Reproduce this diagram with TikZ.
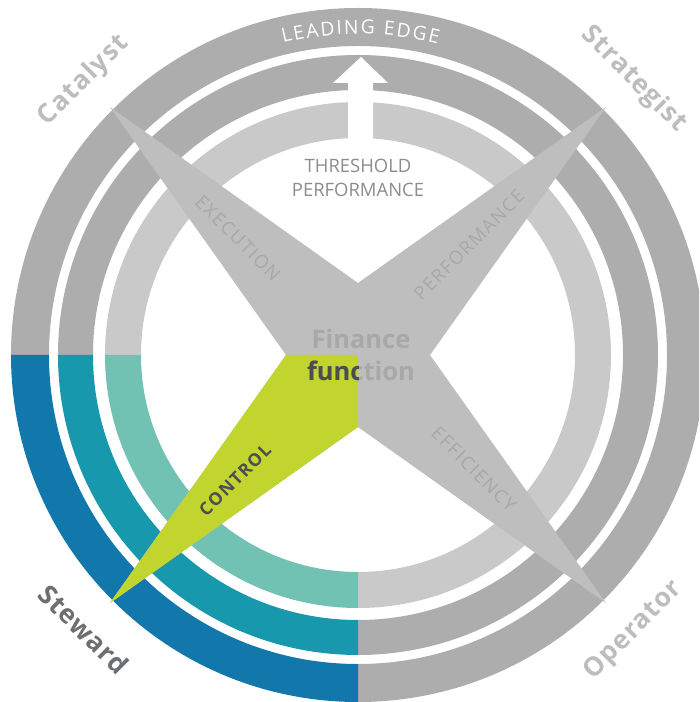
\documentclass[tikz,border=0pt]{standalone}
\usepackage{fontspec}
\usepackage{xcolor}
\usepackage{tikz}
\usetikzlibrary{positioning, decorations.text}
\setmainfont{Open Sans}
\newfontfamily\cornerfont[LetterSpace=4]{Open Sans}
\newfontfamily\armfont[LetterSpace=8]{Open Sans}
\newfontfamily\ctrlfont[LetterSpace=8]{Open Sans}

\definecolor{ringgray}{HTML}{ADADAD}
\definecolor{innergray}{HTML}{C9C9C9}
\definecolor{stargray}{HTML}{BEBEBE}
\definecolor{armtext}{HTML}{A8A8A8}
\definecolor{stewblue}{HTML}{1277AA}
\definecolor{stewteal}{HTML}{1898AC}
\definecolor{stewmint}{HTML}{72C2B4}
\definecolor{controlgreen}{HTML}{C2D52E}
\definecolor{darktext}{HTML}{4D4D4F}
\definecolor{cornergray}{HTML}{BDBDBD}
\definecolor{stewardgray}{HTML}{6D6E71}
\definecolor{threshgray}{HTML}{8C8C8C}

\begin{document}
\begin{tikzpicture}[
    x=0.02cm, y=0.02cm,
    corner/.style={font=\cornerfont\bfseries\fontsize{15}{18}\selectfont, text=cornergray},
    arm/.style={font=\armfont\fontsize{10.5}{12}\selectfont, text=armtext},
    fintext/.style={font=\bfseries\fontsize{14.5}{18.7}\selectfont, align=center}
]
\useasboundingbox (-358,-347) rectangle (341,355);
\clip (-358,-347) rectangle (341,355);

% rings: grey part, then the steward quadrant
\foreach \rin/\rout/\col in {309/347/ringgray, 265/300/ringgray, 217/253/innergray}
    \fill[\col] (-90:\rout) arc[start angle=-90, end angle=180, radius=\rout]
        -- (180:\rin) arc[start angle=180, end angle=-90, radius=\rin] -- cycle;
\foreach \rin/\rout/\col in {309/347/stewblue, 265/300/stewteal, 217/253/stewmint}
    \fill[\col] (180:\rout) arc[start angle=180, end angle=270, radius=\rout]
        -- (270:\rin) arc[start angle=270, end angle=180, radius=\rin] -- cycle;

% arrow to the leading edge
\fill[white] (-10,205) -- (-10,272) -- (-25,272) -- (3,298) -- (30,272)
    -- (15,272) -- (15,205) -- cycle;

\path[decorate, decoration={text along path, text align=fit to path, text color=white,
    text={|\fontsize{11}{12}\selectfont|LEADING EDGE}}]
    (103.5:321) arc[start angle=103.5, end angle=75.6, radius=321];

\node[font=\fontsize{10.5}{14}\selectfont, text=threshgray, align=center] (threshold) at (0,177) {THRESHOLD\\PERFORMANCE};

% star
\fill[stargray] (135:351) -- (90:72) -- (45:351) -- (0:72) -- (-45:351)
    -- (-90:72) -- (-135:351) -- (180:72) -- cycle;
\fill[controlgreen] (0,0) -- (180:72) -- (-135:351) -- (-90:72) -- cycle;

\node[arm, rotate=-45] (execution) at (-120,117) {EXECUTION};
\node[arm, rotate=45] (performance) at (111,110) {PERFORMANCE};
\node[arm, rotate=-45] (efficiency) at (116,-114) {EFFICIENCY};
\node[font=\ctrlfont\bfseries\fontsize{10}{12}\selectfont, text=darktext, rotate=45] (control) at (-123,-125) {CONTROL};

\node[fintext, text=armtext] (finance) at (3,0) {Finance\\function};
\begin{scope}
    \clip (0,0) -- (180:72) -- (-135:351) -- (-90:72) -- cycle;
    \node[fintext, text=darktext] (financedark) at (3,0) {Finance\\function};
\end{scope}

\node[corner, rotate=45] (catalyst) at (135:388) {Catalyst};
\node[corner, rotate=-45] (strategist) at (45:390) {Strategist};
\node[corner, rotate=45] (operator) at (-45:390) {Operator};
\node[corner, rotate=-45, text=stewardgray] (steward) at (-135:388) {Steward};

\end{tikzpicture}
\end{document}
